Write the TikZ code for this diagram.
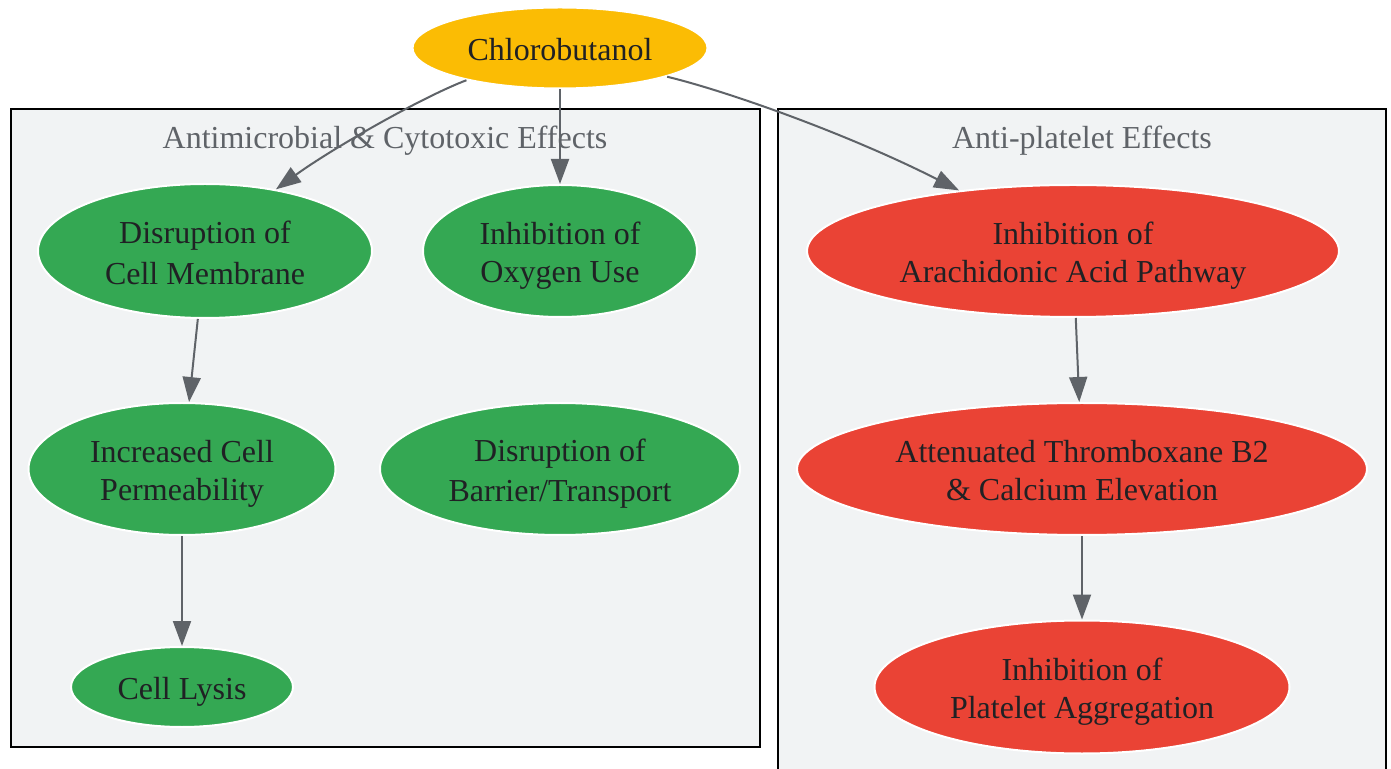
\documentclass[tikz,border=0pt]{standalone}
\usepackage{fontspec}
\setmainfont{Liberation Serif}
\usetikzlibrary{shapes.geometric,arrows.meta}
\definecolor{cyel}{HTML}{FBBC04}
\definecolor{cgreen}{HTML}{34A853}
\definecolor{cred}{HTML}{EA4335}
\definecolor{ctext}{HTML}{202124}
\definecolor{cedge}{HTML}{5F6368}
\definecolor{cbg}{HTML}{F1F3F4}
\newcommand\lnstrut{\rule[-2.75pt]{0pt}{18.5pt}}
\tikzset{
  blob/.style={ellipse, draw=white, line width=1pt, inner sep=0pt, text=ctext, align=center, font=\fontsize{16}{19}\selectfont},
  clusterbox/.style={draw=black, line width=1pt, fill=cbg},
  clusterlabel/.style={text=cedge, anchor=base, inner sep=0pt, font=\fontsize{16}{19}\selectfont},
  edge/.style={draw=cedge, line width=1pt, -{Triangle[length=12.5pt,width=9pt]}}
}
\begin{document}
\begin{tikzpicture}[x=0.5pt,y=-0.5pt]
\useasboundingbox (0,0) rectangle (1391,769);
\clip (0,0) rectangle (1391,769);
\fill[white] (0,0) rectangle (1391,769);
% clusters
\draw[clusterbox] (11,109) rectangle (760,747);
\node[clusterlabel] (lab1) at (385,149) {Antimicrobial \& Cytotoxic Effects};
\draw[clusterbox] (778,109) rectangle (1386,800);
\node[clusterlabel] (lab2) at (1082,149) {Anti-platelet Effects};
% nodes
\node[blob, fill=cyel, minimum width=147.5pt, minimum height=40.5pt] (chl) at (560,48) {\lnstrut Chlorobutanol};
\node[blob, fill=cgreen, minimum width=167pt, minimum height=67pt] (mem) at (205,251) {\lnstrut Disruption of\\\lnstrut Cell Membrane};
\node[blob, fill=cgreen, minimum width=137pt, minimum height=66pt] (oxy) at (560,251) {\lnstrut Inhibition of\\\lnstrut Oxygen Use};
\node[blob, fill=cgreen, minimum width=153.5pt, minimum height=66pt] (perm) at (182,469) {\lnstrut Increased Cell\\\lnstrut Permeability};
\node[blob, fill=cgreen, minimum width=180pt, minimum height=66pt] (bar) at (560,469) {\lnstrut Disruption of\\\lnstrut Barrier/Transport};
\node[blob, fill=cgreen, minimum width=111pt, minimum height=40pt] (lys) at (182,687) {\lnstrut Cell Lysis};
\node[blob, fill=cred, minimum width=266pt, minimum height=66pt] (ara) at (1073,251) {\lnstrut Inhibition of\\\lnstrut Arachidonic Acid Pathway};
\node[blob, fill=cred, minimum width=285pt, minimum height=66pt] (thr) at (1082,469) {\lnstrut Attenuated Thromboxane B2\\\lnstrut \& Calcium Elevation};
\node[blob, fill=cred, minimum width=207.5pt, minimum height=66.5pt] (pla) at (1082,687) {\lnstrut Inhibition of\\\lnstrut Platelet Aggregation};
% edges
\draw[edge] (chl.199) .. controls (420,98) and (330,150) .. (mem.41);
\draw[edge] (chl) -- (oxy);
\draw[edge] (chl.345) .. controls (730,92) and (850,135) .. (ara.152);
\draw[edge] (mem) -- (perm);
\draw[edge] (perm) -- (lys);
\draw[edge] (ara) -- (thr);
\draw[edge] (thr) -- (pla);
\end{tikzpicture}
\end{document}
